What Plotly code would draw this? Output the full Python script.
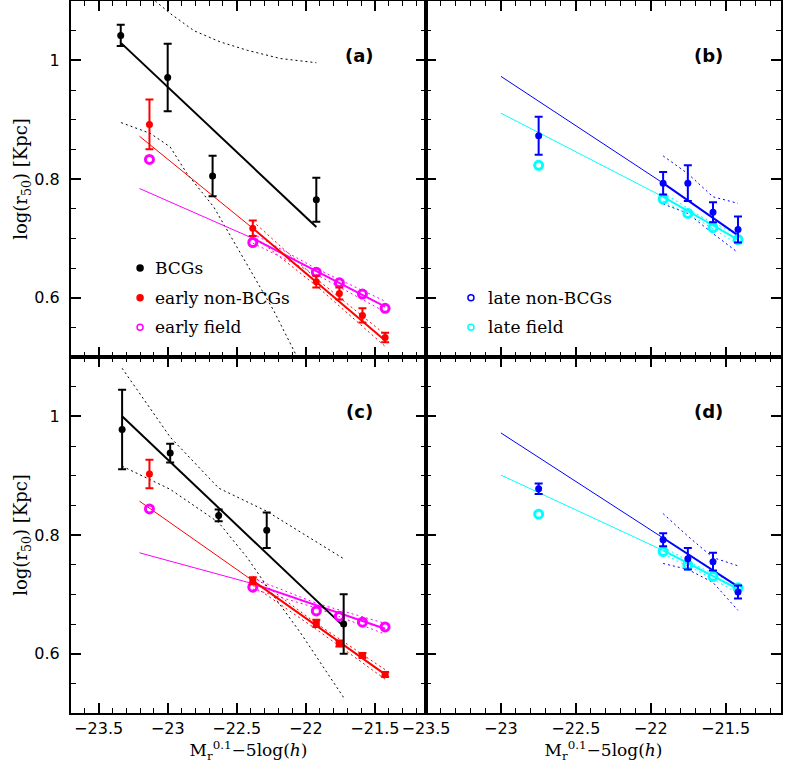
import plotly.graph_objects as go
from plotly.subplots import make_subplots

# ---- panel (a): early types, sample 1 ----
bcg_x_a = [-23.34, -23.0, -22.675, -21.924]
bcg_y_a = [1.042, 0.971, 0.805, 0.765]
bcg_err_a = [0.018, 0.057, 0.034, 0.037]
bcg_fit_x_a = [-23.337, -21.924]
bcg_fit_y_a = [1.029, 0.719]
bcg_hi_x_a = [-23.09, -22.982, -22.81, -22.619, -22.425, -22.183, -21.924]
bcg_hi_y_a = [1.10, 1.079, 1.05, 1.031, 1.017, 1.003, 0.996]
bcg_lo_x_a = [-23.337, -23.127, -22.982, -22.86, -22.667, -22.425, -22.232, -22.074]
bcg_lo_y_a = [0.895, 0.877, 0.854, 0.809, 0.753, 0.657, 0.578, 0.505]

early_x = [-23.132, -22.384, -21.924, -21.757, -21.59, -21.426]
nonbcg_y_a = [0.892, 0.717, 0.627, 0.607, 0.570, 0.533]
nonbcg_err_a = [0.042, 0.013, 0.010, 0.010, 0.012, 0.008]
nonbcg_fit_x_a = [-23.204, -22.384, -21.426]
nonbcg_fit_y_a = [0.872, 0.717, 0.528]
nonbcg_band_x = [-22.384, -21.924, -21.426]
nonbcg_hi_a = [0.729, 0.632, 0.538]
nonbcg_lo_a = [0.705, 0.620, 0.518]

efield_y_a = [0.833, 0.693, 0.643, 0.625, 0.606, 0.582]
efield_fit_x_a = [-23.204, -22.384, -21.426]
efield_fit_y_a = [0.784, 0.700, 0.585]
efield_hi_a = [0.708, 0.649, 0.594]
efield_lo_a = [0.692, 0.639, 0.576]

# ---- panel (b): late types, sample 1 ----
late_x = [-22.748, -21.917, -21.752, -21.584, -21.417]
lnon_y_b = [0.873, 0.793, 0.793, 0.744, 0.715]
lnon_err_b = [0.032, 0.019, 0.030, 0.017, 0.022]
lnon_fit_x_b = [-23.0, -21.917, -21.417]
lnon_fit_y_b = [0.973, 0.793, 0.705]
lnon_band_x = [-21.917, -21.752, -21.584, -21.417]
lnon_hi_b = [0.839, 0.809, 0.770, 0.759]
lnon_lo_b = [0.758, 0.742, 0.708, 0.676]

lfield_y_b = [0.823, 0.766, 0.742, 0.718, 0.698]
lfield_fit_x_b = [-23.0, -21.917, -21.417]
lfield_fit_y_b = [0.911, 0.770, 0.698]
lfield_band_x = [-21.917, -21.667, -21.417]
lfield_hi_b = [0.777, 0.737, 0.706]
lfield_lo_b = [0.763, 0.729, 0.690]

# ---- panel (c): early types, sample 2 ----
bcg_x_c = [-23.33, -22.982, -22.631, -22.283, -21.726]
bcg_y_c = [0.978, 0.938, 0.833, 0.808, 0.650]
bcg_err_c = [0.067, 0.016, 0.010, 0.030, 0.050]
bcg_fit_x_c = [-23.33, -21.726]
bcg_fit_y_c = [1.0, 0.646]
bcg_hi_x_c = [-23.33, -22.982, -22.631, -22.283, -21.726]
bcg_hi_y_c = [1.081, 0.965, 0.879, 0.840, 0.760]
bcg_lo_x_c = [-23.33, -22.982, -22.631, -22.425, -22.232, -22.038, -21.726]
bcg_lo_y_c = [0.916, 0.877, 0.821, 0.762, 0.697, 0.635, 0.526]

nonbcg_y_c = [0.903, 0.723, 0.651, 0.617, 0.597, 0.565]
nonbcg_err_c = [0.024, 0.006, 0.006, 0.005, 0.004, 0.004]
nonbcg_fit_x_c = [-23.204, -22.384, -21.426]
nonbcg_fit_y_c = [0.857, 0.723, 0.565]
nonbcg_hi_c = [0.731, 0.651, 0.573]
nonbcg_lo_c = [0.715, 0.641, 0.557]

efield_y_c = [0.844, 0.712, 0.672, 0.663, 0.653, 0.645]
efield_fit_x_c = [-23.204, -22.384, -21.426]
efield_fit_y_c = [0.770, 0.718, 0.642]
efield_hi_c = [0.727, 0.685, 0.651]
efield_lo_c = [0.709, 0.677, 0.633]

# ---- panel (d): late types, sample 2 ----
lnon_y_d = [0.878, 0.792, 0.760, 0.755, 0.704]
lnon_err_d = [0.009, 0.011, 0.018, 0.015, 0.011]
lnon_fit_x_d = [-23.0, -21.917, -21.417]
lnon_fit_y_d = [0.972, 0.795, 0.713]
lnon_hi_d = [0.836, 0.798, 0.762, 0.748]
lnon_lo_d = [0.752, 0.742, 0.720, 0.673]

lfield_y_d = [0.835, 0.772, 0.749, 0.730, 0.711]
lfield_fit_x_d = [-23.0, -21.917, -21.417]
lfield_fit_y_d = [0.901, 0.774, 0.709]
lfield_hi_d = [0.780, 0.745, 0.716]
lfield_lo_d = [0.768, 0.737, 0.702]

BLACK, RED, MAG, BLUE, CYAN = "#000000", "#ff0000", "#ff00ff", "#0000ff", "#00ffff"

fig = make_subplots(rows=2, cols=2, horizontal_spacing=0, vertical_spacing=0)


def line(x, y, color, r, c, width=1.0, dash=None):
    fig.add_trace(go.Scatter(x=x, y=y, mode="lines", showlegend=False, hoverinfo="skip",
                             line=dict(color=color, width=width, dash=dash)), row=r, col=c)


def fit(x, y, color, r, c):
    # thin extrapolation, thick over the fitted range
    line(x[:2], y[:2], color, r, c, width=1.0)
    line(x[1:], y[1:], color, r, c, width=2.0)


def points(x, y, color, r, c, err=None, symbol="circle", size=7, lw=0):
    sym = [symbol] * len(x) if isinstance(symbol, str) else symbol
    fig.add_trace(go.Scatter(
        x=x, y=y, mode="markers", showlegend=False,
        marker=dict(color=color, size=size, symbol=sym, line=dict(color=color, width=lw)),
        error_y=None if err is None else dict(type="data", array=err, color=color,
                                              thickness=2, width=4)), row=r, col=c)


def ring(x, y, color, r, c, size=8):
    fig.add_trace(go.Scatter(
        x=x, y=y, mode="markers", showlegend=False,
        marker=dict(color=color, size=size, symbol="circle-open", line=dict(color=color, width=3))),
        row=r, col=c)


DOT = "2px,3px"

# (a)
line(bcg_hi_x_a, bcg_hi_y_a, BLACK, 1, 1, dash=DOT)
line(bcg_lo_x_a, bcg_lo_y_a, BLACK, 1, 1, dash=DOT)
line(nonbcg_band_x, nonbcg_hi_a, RED, 1, 1, dash=DOT)
line(nonbcg_band_x, nonbcg_lo_a, RED, 1, 1, dash=DOT)
line(nonbcg_band_x, efield_hi_a, MAG, 1, 1, dash=DOT)
line(nonbcg_band_x, efield_lo_a, MAG, 1, 1, dash=DOT)
fit(efield_fit_x_a, efield_fit_y_a, MAG, 1, 1)
fit(nonbcg_fit_x_a, nonbcg_fit_y_a, RED, 1, 1)
line(bcg_fit_x_a, bcg_fit_y_a, BLACK, 1, 1, width=2)
ring(early_x, efield_y_a, MAG, 1, 1)
points(early_x, nonbcg_y_a, RED, 1, 1, err=nonbcg_err_a)
points(bcg_x_a, bcg_y_a, BLACK, 1, 1, err=bcg_err_a)

# (b)
line(lnon_band_x, lnon_hi_b, BLUE, 1, 2, dash=DOT)
line(lnon_band_x, lnon_lo_b, BLUE, 1, 2, dash=DOT)
line(lfield_band_x, lfield_hi_b, CYAN, 1, 2, dash=DOT)
line(lfield_band_x, lfield_lo_b, CYAN, 1, 2, dash=DOT)
fit(lfield_fit_x_b, lfield_fit_y_b, CYAN, 1, 2)
fit(lnon_fit_x_b, lnon_fit_y_b, BLUE, 1, 2)
ring(late_x, lfield_y_b, CYAN, 1, 2)
points(late_x, lnon_y_b, BLUE, 1, 2, err=lnon_err_b)

# (c)
line(bcg_hi_x_c, bcg_hi_y_c, BLACK, 2, 1, dash=DOT)
line(bcg_lo_x_c, bcg_lo_y_c, BLACK, 2, 1, dash=DOT)
line(nonbcg_band_x, nonbcg_hi_c, RED, 2, 1, dash=DOT)
line(nonbcg_band_x, nonbcg_lo_c, RED, 2, 1, dash=DOT)
line(nonbcg_band_x, efield_hi_c, MAG, 2, 1, dash=DOT)
line(nonbcg_band_x, efield_lo_c, MAG, 2, 1, dash=DOT)
fit(efield_fit_x_c, efield_fit_y_c, MAG, 2, 1)
fit(nonbcg_fit_x_c, nonbcg_fit_y_c, RED, 2, 1)
line(bcg_fit_x_c, bcg_fit_y_c, BLACK, 2, 1, width=2)
ring(early_x, efield_y_c, MAG, 2, 1)
points(early_x, nonbcg_y_c, RED, 2, 1, err=nonbcg_err_c,
       symbol=["circle"] + ["square"] * 5)
points(bcg_x_c, bcg_y_c, BLACK, 2, 1, err=bcg_err_c)

# (d)
line(lnon_band_x, lnon_hi_d, BLUE, 2, 2, dash=DOT)
line(lnon_band_x, lnon_lo_d, BLUE, 2, 2, dash=DOT)
line(lfield_band_x, lfield_hi_d, CYAN, 2, 2, dash=DOT)
line(lfield_band_x, lfield_lo_d, CYAN, 2, 2, dash=DOT)
fit(lfield_fit_x_d, lfield_fit_y_d, CYAN, 2, 2)
fit(lnon_fit_x_d, lnon_fit_y_d, BLUE, 2, 2)
ring(late_x, lfield_y_d, CYAN, 2, 2)
points(late_x, lnon_y_d, BLUE, 2, 2, err=lnon_err_d)

# in-panel keys
key_a = [("BCGs", BLACK, "circle"), ("early non-BCGs", RED, "circle"),
         ("early field", MAG, "circle-open")]
key_b = [("late non-BCGs", BLUE, "circle-open"), ("late field", CYAN, "circle-open")]
key_rows_a = [0.65, 0.60, 0.55]
key_rows_b = [0.60, 0.55]
KEY_FONT = dict(family="DejaVu Serif", size=17, color="black")
for (label, col, sym), ky in zip(key_a, key_rows_a):
    fig.add_trace(go.Scatter(x=[-23.2], y=[ky], mode="markers", showlegend=False,
                             marker=dict(color=col, size=6, symbol=sym, line=dict(color=col, width=1.5))),
                  row=1, col=1)
    fig.add_annotation(x=-23.11, y=ky, text=label, showarrow=False, xanchor="left",
                       font=KEY_FONT, xref="x", yref="y")
for (label, col, sym), ky in zip(key_b, key_rows_b):
    fig.add_trace(go.Scatter(x=[-23.2], y=[ky], mode="markers", showlegend=False,
                             marker=dict(color=col, size=6, symbol=sym, line=dict(color=col, width=1.5))),
                  row=1, col=2)
    fig.add_annotation(x=-23.1, y=ky, text=label, showarrow=False, xanchor="left",
                       font=KEY_FONT, xref="x2", yref="y2")

for tag, xr, yr, xp in [("(a)", "x", "y", -21.615), ("(b)", "x2", "y2", -21.614),
                        ("(c)", "x3", "y3", -21.615), ("(d)", "x4", "y4", -21.614)]:
    fig.add_annotation(x=xp, y=1.008, text="<b>" + tag + "</b>", showarrow=False,
                       xref=xr, yref=yr, font=dict(family="DejaVu Sans", size=18, color="black"))

axis_style = dict(showline=True, linecolor="black", linewidth=2, mirror="ticks",
                  ticks="inside", ticklen=10, tickwidth=1.8, tickcolor="black",
                  showgrid=False, zeroline=False,
                  tickfont=dict(family="DejaVu Sans", size=16, color="black"))

xticks = [-23.5, -23, -22.5, -22, -21.5]
xlabels = ["\u221223.5", "\u221223", "\u221222.5", "\u221222", "\u221221.5"]
yticks = [0.6, 0.8, 1.0]
ylabels = ["0.6", "0.8", "1"]
xminor = dict(ticks="inside", ticklen=5, tickwidth=1.2, tickcolor="black", dtick=0.1)
yminor = dict(ticks="inside", ticklen=5, tickwidth=1.2, tickcolor="black", dtick=0.05)

xtitle = "M<sub>r</sub><sup>0.1</sup>\u22125log(<i>h</i>)"
ytitle = "log(r<sub>50</sub>) [Kpc]"

for r in (1, 2):
    for c in (1, 2):
        xrange = [-23.7, -21.13] if c == 1 else [-23.5001, -21.13]
        fig.update_xaxes(axis_style, range=xrange, tickvals=xticks, ticktext=xlabels,
                         showticklabels=(r == 2), minor=xminor,
                         title=dict(text=xtitle if r == 2 else "", standoff=3,
                                    font=dict(family="DejaVu Serif", size=17, color="black")),
                         row=r, col=c)
        fig.update_yaxes(axis_style, range=[0.5, 1.1], tickvals=yticks, ticktext=ylabels,
                         showticklabels=(c == 1), minor=yminor, ticklabelstandoff=6,
                         title=dict(text=ytitle if c == 1 else "", standoff=2,
                                    font=dict(family="DejaVu Serif", size=18, color="black")),
                         row=r, col=c)

fig.update_layout(width=785, height=769, paper_bgcolor="white", plot_bgcolor="white",
                  margin=dict(l=71, r=4, t=1, b=56, autoexpand=False), showlegend=False)

fig.write_html("out.html", config={"displayModeBar": False},
               post_script="document.body.style.margin='0';")
